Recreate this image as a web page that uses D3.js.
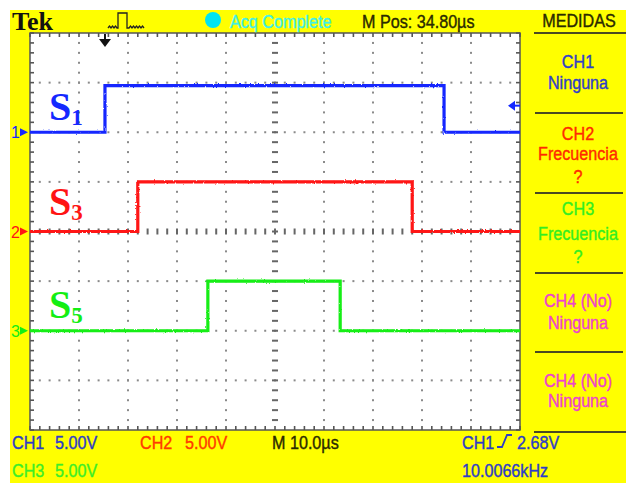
<!DOCTYPE html>
<html>
<head>
<meta charset="utf-8">
<script src="https://cdn.jsdelivr.net/npm/d3@7"></script>
<style>
  html, body { margin: 0; padding: 0; background: #ffffff; }
  svg { display: block; }
  text { font-family: "Liberation Sans", Arial, sans-serif; }
</style>
</head>
<body>
<svg id="scope" width="626" height="483"></svg>
<script>
// Channel traces: pulse edges (µs), high level (V), ground offset (divisions from centre)
const channels    = ["CH1", "CH2", "CH3"];
const labels      = ["S", "S", "S"];
const subscripts  = ["1", "3", "5"];
const riseTimes   = [15.3, 22.0, 36.3];
const fallTimes   = [84.5, 78.0, 63.3];
const highVolts   = [4.7, 5.0, 5.0];
const groundDivs  = [2, 0, -2];
const traceColors = ["#1428ff", "#ff1414", "#14ee14"];
const textColors  = ["#2d3cc8", "#ff3a00", "#3cee28"];

// Timebase and vertical settings
const timeSpan   = [0, 100];       // 10 divisions × 10 µs
const voltsPerDiv = 5;
const triggerLevel = 2.68;         // V on CH1

// Readout strings
const topStatus = { brand: "Tek", acq: "Acq Complete", mpos: "M Pos: 34.80µs" };
const menuTitle = "MEDIDAS";
const menuItems = [
  { lines: ["CH1", "Ninguna"], color: "#3040c8" },
  { lines: ["CH2", "Frecuencia", "?"], color: "#ff2a00" },
  { lines: ["CH3", "Frecuencia", "?"], color: "#33ee22" },
  { lines: ["CH4 (No)", "Ninguna"], color: "#ee44cc" },
  { lines: ["CH4 (No)", "Ninguna"], color: "#ee44cc" }
];
const scaleReadouts = ["5.00V", "5.00V", "5.00V"];
const timeReadout = "M 10.0µs";
const trigReadout = "2.68V";
const freqReadout = "10.0066kHz";

const svg = d3.select("#scope");
const W = 626, H = 483;
const plot = { left: 30, right: 520, top: 33, bottom: 430 };

const x = d3.scaleLinear().domain(timeSpan).range([plot.left, plot.right]);
const y = d3.scaleLinear().domain([-4, 4]).range([plot.bottom, plot.top]);
const divX = (plot.right - plot.left) / 10;
const divY = (plot.bottom - plot.top) / 8;

// Slight fuzz for the acquired traces
const defs = svg.append("defs");
const fuzz = defs.append("filter").attr("id", "fuzz")
  .attr("filterUnits", "userSpaceOnUse").attr("x", 0).attr("y", 0).attr("width", W).attr("height", H);
fuzz.append("feTurbulence").attr("type", "fractalNoise").attr("baseFrequency", "0.9 0.35")
  .attr("numOctaves", 1).attr("seed", 4).attr("result", "n");
fuzz.append("feDisplacementMap").attr("in", "SourceGraphic").attr("in2", "n")
  .attr("scale", 2.5).attr("xChannelSelector", "R").attr("yChannelSelector", "G");

// Screen background
svg.append("rect").attr("x", 10).attr("y", 10).attr("width", W - 10).attr("height", H - 10).attr("fill", "#ffff00");
svg.append("rect").attr("x", plot.left).attr("y", plot.top)
  .attr("width", plot.right - plot.left).attr("height", plot.bottom - plot.top).attr("fill", "#ffffff");

// Graticule
const grid = svg.append("g");
const dotColor = "#8a8a8a";
const minorT = d3.range(0, 10.0001, 0.2);
const minorV = d3.range(-4, 4.0001, 0.2);
// dotted division lines
for (let i = 1; i < 10; i++) {
  if (i === 5) continue;
  grid.selectAll(null).data(minorV.slice(1, -1)).join("rect")
    .attr("x", plot.left + i * divX - 1).attr("y", d => y(d) - 1)
    .attr("width", 2).attr("height", 2).attr("fill", dotColor);
}
for (let j = -3; j <= 3; j++) {
  if (j === 0) continue;
  grid.selectAll(null).data(minorT.slice(1, -1)).join("rect")
    .attr("x", d => plot.left + d * divX - 1).attr("y", y(j) - 1)
    .attr("width", 2).attr("height", 2).attr("fill", dotColor);
}
// centre lines with minor ticks
grid.selectAll(null).data(minorV.slice(1, -1)).join("rect")
  .attr("x", plot.left + 5 * divX - 3).attr("y", d => y(d) - 1)
  .attr("width", 6).attr("height", 2).attr("fill", "#666");
grid.selectAll(null).data(minorT.slice(1, -1)).join("rect")
  .attr("x", d => plot.left + d * divX - 1).attr("y", y(0) - 3)
  .attr("width", 2).attr("height", 6).attr("fill", "#666");
// edge ticks
const tickCol = "#555";
grid.selectAll(null).data(minorT).join("line")
  .attr("x1", d => plot.left + d * divX).attr("x2", d => plot.left + d * divX)
  .attr("y1", plot.top).attr("y2", plot.top + 4).attr("stroke", tickCol).attr("stroke-width", 1.6);
grid.selectAll(null).data(minorT).join("line")
  .attr("x1", d => plot.left + d * divX).attr("x2", d => plot.left + d * divX)
  .attr("y1", plot.bottom).attr("y2", plot.bottom - 4).attr("stroke", tickCol).attr("stroke-width", 1.6);
grid.selectAll(null).data(minorV).join("line")
  .attr("x1", plot.left).attr("x2", plot.left + 4)
  .attr("y1", d => y(d)).attr("y2", d => y(d)).attr("stroke", tickCol).attr("stroke-width", 1.6);
grid.selectAll(null).data(minorV).join("line")
  .attr("x1", plot.right).attr("x2", plot.right - 4)
  .attr("y1", d => y(d)).attr("y2", d => y(d)).attr("stroke", tickCol).attr("stroke-width", 1.6);
grid.append("rect").attr("x", plot.left).attr("y", plot.top)
  .attr("width", plot.right - plot.left).attr("height", plot.bottom - plot.top)
  .attr("fill", "none").attr("stroke", "#555").attr("stroke-width", 1.5);

// Traces
const line = d3.line().x(d => x(d[0])).y(d => y(d[1]));
channels.forEach((ch, i) => {
  const lo = groundDivs[i];
  const hi = groundDivs[i] + highVolts[i] / voltsPerDiv;
  const pts = [
    [timeSpan[0], lo], [riseTimes[i], lo], [riseTimes[i], hi],
    [fallTimes[i], hi], [fallTimes[i], lo], [timeSpan[1], lo]
  ];
  svg.append("path").datum(pts).attr("d", line)
    .attr("fill", "none").attr("stroke", traceColors[i])
    .attr("stroke-width", 3.2).attr("stroke-linejoin", "miter")
    .attr("filter", "url(#fuzz)");

  // ground marker on the left edge
  const gy = y(lo);
  svg.append("text").attr("x", 11).attr("y", gy + 6).text(String(i + 1))
    .attr("font-size", 16).attr("fill", traceColors[i]);
  svg.append("path")
    .attr("d", `M20,${gy - 4} L28,${gy} L20,${gy + 4} Z`).attr("fill", traceColors[i]);
});

// Signal names
const nameBase = [120, 215, 318];
channels.forEach((ch, i) => {
  const t = svg.append("text").attr("x", 49).attr("y", nameBase[i])
    .attr("fill", traceColors[i])
    .style("font-family", "'Liberation Serif', 'Times New Roman', serif")
    .style("font-weight", "bold").attr("font-size", 40);
  t.append("tspan").text(labels[i]);
  t.append("tspan").attr("dy", 5).attr("font-size", 23).text(subscripts[i]);
});

// Trigger position marker (top) and trigger level marker (right)
const tx = x(riseTimes[0]);
svg.append("line").attr("x1", tx).attr("x2", tx).attr("y1", 34).attr("y2", 40)
  .attr("stroke", "#111").attr("stroke-width", 2);
svg.append("path").attr("d", `M${tx - 6},39 L${tx + 6},39 L${tx},47 Z`).attr("fill", "#111");
const ty = y(groundDivs[0] + triggerLevel / voltsPerDiv);
svg.append("path").attr("d", `M508,${ty} L515,${ty - 5} L515,${ty + 5} Z`).attr("fill", traceColors[0]);
svg.append("line").attr("x1", 514).attr("x2", 520).attr("y1", ty).attr("y2", ty)
  .attr("stroke", traceColors[0]).attr("stroke-width", 2);

// Readout text helper: scope font is narrow and slightly heavy
function readout(g, str, px, py, color, anchor) {
  return g.append("text")
    .attr("transform", `translate(${px},${py}) scale(0.85,1)`)
    .attr("text-anchor", anchor || "start")
    .attr("font-size", 19).attr("fill", color)
    .attr("stroke", color).attr("stroke-width", 0.4).text(str);
}

// Top status bar
svg.append("text").attr("x", 12).attr("y", 30).text(topStatus.brand)
  .style("font-family", "'Liberation Serif', 'Times New Roman', serif")
  .style("font-weight", "bold").attr("font-size", 26).attr("fill", "#111");
svg.append("path")
  .attr("d", "M108,28 l1.5,-2 l1.5,2 l1.5,-2 l1.5,2 l1.5,-2 l1.5,2 L118,28 L118,13 L127,13 L127,28 L129,28 l1.5,-2 l1.5,2 l1.5,-2 l1.5,2 l1.5,-2 l1.5,2 l1.5,-2 l1.5,2 l1.5,-2 l1.5,2")
  .attr("fill", "none").attr("stroke", "#222").attr("stroke-width", 1.3);
svg.append("circle").attr("cx", 213).attr("cy", 20).attr("r", 8).attr("fill", "#00e4f0");
readout(svg, topStatus.acq, 230, 28, "#3ff0e6");
readout(svg, topStatus.mpos, 362, 28, "#2a2a00");

// Measurement menu
const menu = svg.append("g");
const menuCx = 578;
readout(menu, menuTitle, menuCx + 1, 27, "#2a2a00", "middle");
const sepY = [33, 113, 193, 273, 352, 432];
menu.selectAll(null).data(sepY).join("line")
  .attr("x1", (d, i) => i === 0 || i === sepY.length - 1 ? 534 : 535)
  .attr("x2", (d, i) => i === 0 || i === sepY.length - 1 ? 626 : 623)
  .attr("y1", d => d).attr("y2", d => d)
  .attr("stroke", "#4a4a22").attr("stroke-width", 2);
const itemBase = [[68, 89], [140, 160, 183], [215, 240, 263], [307, 329], [387, 407]];
menuItems.forEach((item, i) => {
  item.lines.forEach((s, k) => readout(menu, s, menuCx, itemBase[i][k], item.color, "middle"));
});

// Bottom readouts
readout(svg, channels[0], 12, 449, textColors[0]);
readout(svg, scaleReadouts[0], 55, 449, textColors[0]);
readout(svg, channels[1], 140, 449, textColors[1]);
readout(svg, scaleReadouts[1], 185, 449, textColors[1]);
readout(svg, timeReadout, 272, 449, "#2a2a00");
readout(svg, channels[2], 12, 477, textColors[2]);
readout(svg, scaleReadouts[2], 55, 477, textColors[2]);
readout(svg, channels[0], 462, 449, textColors[0]);
svg.append("path").attr("d", "M497,447 L502,447 L507,435 L512,435")
  .attr("fill", "none").attr("stroke", textColors[0]).attr("stroke-width", 1.8);
readout(svg, trigReadout, 517, 449, textColors[0]);
readout(svg, freqReadout, 462, 477, textColors[0]);
</script>
</body>
</html>
